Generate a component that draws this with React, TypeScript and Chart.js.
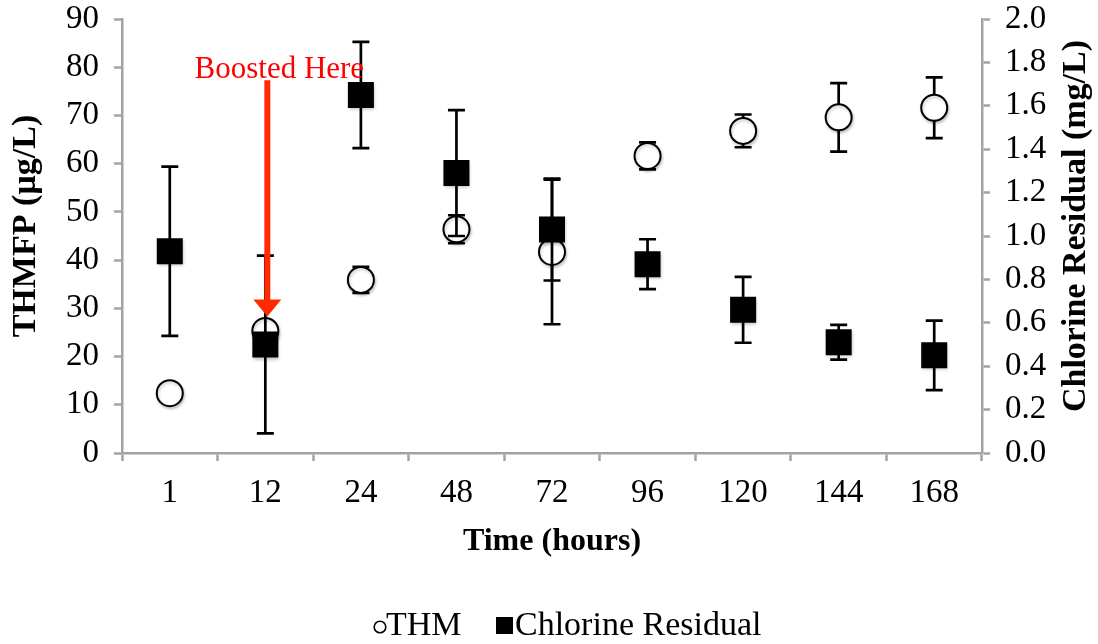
import React, { useEffect, useRef } from 'react';
import { Chart, registerables } from 'chart.js';

Chart.register(...registerables);

// Sampling times (hours after start)
const hours = ['1', '12', '24', '48', '72', '96', '120', '144', '168'];

// THM formation potential (µg/L) and its standard deviation
const thm = [12.4, 25.3, 35.9, 46.4, 41.7, 61.6, 66.8, 69.6, 71.6];
const thmErr = [0, 0, 2.7, 2.9, 15.0, 2.8, 3.4, 7.1, 6.3];

// Chlorine residual (mg/L) and its standard deviation
const chlorine = [0.93, 0.5, 1.65, 1.29, 1.03, 0.87, 0.66, 0.51, 0.45];
const chlorineErr = [0.39, 0.41, 0.245, 0.29, 0.235, 0.115, 0.152, 0.08, 0.16];

// Booster annotation: category index and arrow extent on the THMFP axis
const boostIndex = 1;
const boostLabel = 'Boosted Here';
const boostFrom = 77.3;
const boostTo = 28.3;

// Axis titles
const leftTitle = 'THMFP (µg/L)';
const rightTitle = 'Chlorine Residual (mg/L)';
const bottomTitle = 'Time (hours)';

const SERIF = '"Liberation Serif", "Times New Roman", Times, serif';
const AXIS_GREY = '#a3a3a3';
const BOOST_RED = '#ff2a00';

// Error bars are drawn just before each dataset's markers, then a soft
// shadow is applied to the markers themselves.
const errorBars = {
  id: 'errorBars',
  beforeDatasetDraw(chart: any, args: any) {
    const ds = chart.data.datasets[args.index];
    const errs: number[] | undefined = ds.errors;
    const ctx = chart.ctx;
    if (errs) {
      const yScale = chart.scales[ds.yAxisID];
      const cap = 8.5;
      ctx.save();
      ctx.strokeStyle = '#000';
      ctx.lineWidth = 2.7;
      args.meta.data.forEach((pt: any, i: number) => {
        const e = errs[i];
        if (!e) return;
        const v = ds.data[i];
        const x = pt.x;
        const yTop = yScale.getPixelForValue(v + e);
        const yBot = yScale.getPixelForValue(v - e);
        ctx.beginPath();
        ctx.moveTo(x, yTop);
        ctx.lineTo(x, yBot);
        ctx.moveTo(x - cap, yTop);
        ctx.lineTo(x + cap, yTop);
        ctx.moveTo(x - cap, yBot);
        ctx.lineTo(x + cap, yBot);
        ctx.stroke();
      });
      ctx.restore();
    }
    ctx.save();
    ctx.shadowColor = 'rgba(0,0,0,0.22)';
    ctx.shadowBlur = 3;
    ctx.shadowOffsetX = 1;
    ctx.shadowOffsetY = 2;
  },
  afterDatasetDraw(chart: any) {
    chart.ctx.restore();
  },
};

const decorations = {
  id: 'decorations',
  afterDraw(chart: any) {
    const { ctx, scales } = chart;
    const xs = scales.x;
    const ys = scales.y;

    // Booster arrow and label
    const ax = xs.getPixelForValue(boostIndex) + 2;
    const y0 = ys.getPixelForValue(boostFrom);
    const y1 = ys.getPixelForValue(boostTo);
    const headH = 17;
    const headW = 14;
    ctx.save();
    ctx.fillStyle = BOOST_RED;
    ctx.fillRect(ax - 3, y0, 6, y1 - headH - y0 + 1);
    ctx.beginPath();
    ctx.moveTo(ax - headW, y1 - headH);
    ctx.lineTo(ax + headW, y1 - headH);
    ctx.lineTo(ax, y1);
    ctx.closePath();
    ctx.fill();
    ctx.fillStyle = '#ff0000';
    ctx.font = `31px ${SERIF}`;
    ctx.textAlign = 'center';
    ctx.textBaseline = 'alphabetic';
    ctx.fillText(boostLabel, ax + 12, y0 - 2);
    ctx.restore();

    // Vertical axis titles, both reading bottom to top
    ctx.save();
    ctx.fillStyle = '#000';
    ctx.font = `bold 34px ${SERIF}`;
    ctx.textAlign = 'center';
    ctx.textBaseline = 'middle';
    ctx.save();
    ctx.translate(26, 226);
    ctx.rotate(-Math.PI / 2);
    ctx.fillText(leftTitle, 0, 0);
    ctx.restore();
    ctx.save();
    ctx.translate(1076, 226);
    ctx.rotate(-Math.PI / 2);
    ctx.fillText(rightTitle, 0, 0);
    ctx.restore();
    ctx.restore();

    // Legend
    const ds = chart.data.datasets;
    ctx.save();
    ctx.font = `34px ${SERIF}`;
    ctx.fillStyle = '#000';
    ctx.textBaseline = 'alphabetic';
    ctx.textAlign = 'left';
    const baseY = 635;
    ctx.beginPath();
    ctx.arc(380, 627, 5.8, 0, Math.PI * 2);
    ctx.strokeStyle = '#000';
    ctx.lineWidth = 1.6;
    ctx.stroke();
    ctx.fillText(ds[0].label, 386, baseY);
    ctx.fillRect(496, 617, 17, 17);
    ctx.fillText(ds[1].label, 515, baseY);
    ctx.restore();
  },
};

export default function App() {
  const canvasRef = useRef<HTMLCanvasElement | null>(null);

  useEffect(() => {
    if (!canvasRef.current) return;
    const noPad = (scale: any) => {
      scale.paddingTop = 0;
      scale.paddingBottom = 0;
    };
    const chart = new Chart(canvasRef.current, {
      type: 'line',
      data: {
        labels: hours,
        datasets: [
          {
            label: 'THM',
            data: thm,
            errors: thmErr,
            yAxisID: 'y',
            showLine: false,
            pointStyle: 'circle',
            pointRadius: 13,
            pointBorderWidth: 2,
            pointBackgroundColor: '#ffffff',
            pointBorderColor: '#000000',
            order: 2,
          } as any,
          {
            label: 'Chlorine Residual',
            data: chlorine,
            errors: chlorineErr,
            yAxisID: 'y1',
            showLine: false,
            pointStyle: 'rect',
            pointRadius: 18.4,
            pointBorderWidth: 0,
            pointBackgroundColor: '#000000',
            pointBorderColor: '#000000',
            order: 1,
          } as any,
        ],
      },
      options: {
        animation: false,
        responsive: false,
        events: [],
        layout: { padding: { top: 19, left: 0, right: 0, bottom: 60 } },
        plugins: {
          legend: { display: false },
          tooltip: { enabled: false },
        },
        scales: {
          x: {
            type: 'category',
            offset: true,
            grid: {
              offset: true,
              drawOnChartArea: false,
              drawTicks: true,
              tickLength: 8,
              tickWidth: 2.5,
              color: AXIS_GREY,
            },
            border: { color: AXIS_GREY, width: 2.5 },
            ticks: {
              color: '#000',
              font: { family: SERIF, size: 33 },
              padding: 13,
              maxRotation: 0,
            },
            title: {
              display: true,
              text: bottomTitle,
              color: '#000',
              font: { family: SERIF, size: 32, weight: 'bold' },
              padding: { top: 0, bottom: 23 },
            },
            afterFit(scale: any) {
              scale.height = 131;
            },
          },
          y: {
            type: 'linear',
            position: 'left',
            min: 0,
            max: 90,
            ticks: {
              stepSize: 10,
              color: '#000',
              font: { family: SERIF, size: 33 },
              padding: 15,
            },
            grid: {
              drawOnChartArea: false,
              tickLength: 8,
              tickWidth: 2.5,
              color: AXIS_GREY,
            },
            border: { color: AXIS_GREY, width: 2.5 },
            title: { display: false, text: leftTitle },
            afterFit(scale: any) {
              scale.width = 122;
              noPad(scale);
            },
          },
          y1: {
            type: 'linear',
            position: 'right',
            min: 0,
            max: 2,
            ticks: {
              stepSize: 0.2,
              color: '#000',
              font: { family: SERIF, size: 33 },
              padding: 15,
              callback: (v: any) => Number(v).toFixed(1),
            },
            grid: {
              drawOnChartArea: false,
              tickLength: 8,
              tickWidth: 2.5,
              color: AXIS_GREY,
            },
            border: { color: AXIS_GREY, width: 2.5 },
            title: { display: false, text: rightTitle },
            afterFit(scale: any) {
              scale.width = 116;
              noPad(scale);
            },
          },
        },
      } as any,
      plugins: [errorBars, decorations],
    });
    return () => chart.destroy();
  }, []);

  return (
    <div style={{ position: 'fixed', left: 0, top: 0, width: 1098, height: 644, background: '#fff' }}>
      <canvas ref={canvasRef} width={1098} height={644} style={{ display: 'block' }} />
    </div>
  );
}
